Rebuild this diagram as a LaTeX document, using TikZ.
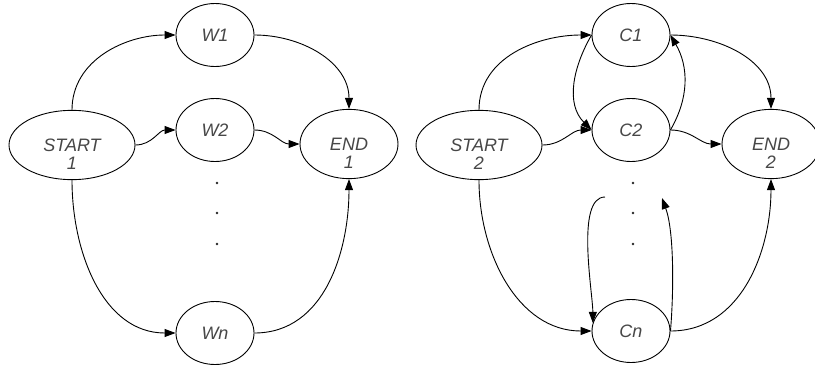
\documentclass[tikz,border=0pt]{standalone}
\usepackage{fontspec}
\setmainfont{Liberation Sans}
\usetikzlibrary{arrows.meta,shapes.geometric}

\newcommand\lowstrut{\rule{0pt}{31pt}}

\begin{document}
\begin{tikzpicture}[
  >={Triangle[length=11pt,width=8pt]},
  line width=0.9pt,
  state/.style={draw, ellipse, fill=white, inner sep=0pt, align=center,
    minimum width=78pt, minimum height=63pt,
    font=\fontsize{18}{18}\selectfont\itshape, text=black!72},
  wide/.style={minimum width=126pt},
  endst/.style={minimum width=98pt}]

\useasboundingbox (0,0) rectangle (815pt,-367pt);

%% first graph
\node[state, wide] (s1) at (72pt,-145pt) {\lowstrut START\\1};
\node[state] (w1) at (215pt,-35pt) {W1};
\node[state] (w2) at (215pt,-130pt) {W2};
\node[state] (wn) at (215pt,-333pt) {Wn};
\node[state, endst] (e1) at (349pt,-144pt) {\lowstrut END\\1};

\draw[->](s1.north) to[out=90, in=180] (w1.west);
\draw[->](w1.east) to[out=0, in=90] (e1.north);
\draw[->](s1.east) to[out=0, in=180] (w2.west);
\draw[->](w2.east) to[out=0, in=180] (e1.west);
\draw[->](s1.south) to[out=-90, in=180] (wn.west);
\draw[->](wn.east) to[out=0, in=-90] (e1.south);

\foreach \y in {183,213,244}
  \fill[black!85] (217pt,-\y pt) circle (1.3pt);

%% second graph
\node[state, wide] (s2) at (479pt,-145pt) {\lowstrut START\\2};
\node[state] (c1) at (631pt,-35pt) {C1};
\node[state] (c2) at (631pt,-130pt) {C2};
\node[state] (cn) at (631pt,-331pt) {Cn};
\node[state, endst] (e2) at (771pt,-144pt) {\lowstrut END\\2};

\coordinate (ctop) at (605pt,-197pt);
\coordinate (cbot) at (662pt,-198pt);

\draw[->](s2.north) to[out=90, in=180] (c1.west);
\draw[->](c1.east) to[out=0, in=90] (e2.north);
\draw[->](s2.east) to[out=0, in=180] (c2.west);
\draw[->](c2.east) to[out=0, in=180] (e2.west);
\draw[->](s2.south) to[out=-90, in=180] (cn.west);
\draw[->](cn.east) to[out=0, in=-90] (e2.south);

\draw[->](c1.west) to[out=240, in=135] (c2.west);
\draw[->](c2.east) to[out=60, in=-60] (c1.east);
\draw[->](ctop) to[out=180, in=90, looseness=0.6] (cn.168);
\draw[->](cn.east) to[out=85, in=-70, looseness=0.7] (cbot);

\foreach \y in {183,213,244}
  \fill[black!85] (633pt,-\y pt) circle (1.3pt);

\end{tikzpicture}
\end{document}
